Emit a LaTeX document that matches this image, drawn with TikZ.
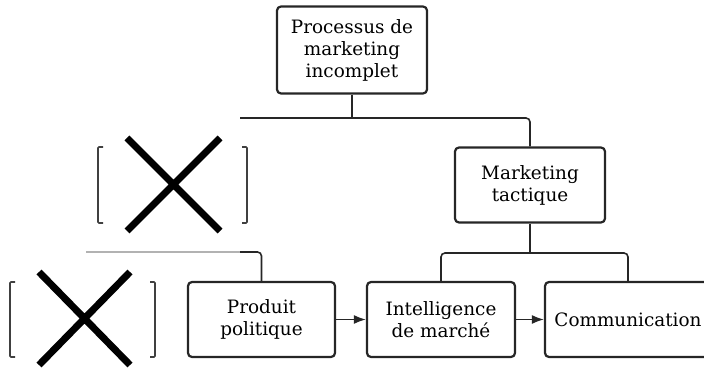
\documentclass[tikz,border=0pt]{standalone}
\usepackage{fontspec}
\setmainfont{DejaVu Serif}
\usetikzlibrary{arrows.meta}
\tikzset{
  box/.style={draw=black!85, line width=2.2pt, rounded corners=4pt, align=center,
    inner sep=0pt, font=\fontsize{18.4}{22}\selectfont, text=black},
  link/.style={line width=1.6pt, draw=black!85},
  tip/.style={-{Latex[length=12pt,width=9pt]}},
  cross/.style={line width=7pt},
  brak/.style={line width=1.6pt, draw=black!75, rounded corners=1pt}
}
\begin{document}
\begin{tikzpicture}[x=1pt,y=-1pt]
\useasboundingbox (0,0) rectangle (704,371);
% boxes
\node[box, minimum width=150, minimum height=87] (top) at (352,50) {Processus de\\marketing\\incomplet};
\node[box, minimum width=150, minimum height=75] (mt) at (530,185) {Marketing\\tactique};
\node[box, minimum width=147, minimum height=75] (prod) at (261.5,319.5) {Produit\\politique};
\node[box, minimum width=148, minimum height=75] (intel) at (441,319.5) {Intelligence\\de march\'e};
\node[box, minimum width=166, minimum height=75] (comm) at (628,319.5) {Communication};
% junctions
\coordinate (j1) at (352,118);
\coordinate (j2) at (530,253);
\coordinate (end1) at (240,118);
\coordinate (end2) at (86,252);
\coordinate (fade) at (240,252);
% links
\draw[link] (top.south) -- (j1);
\draw[link, rounded corners=4pt] (end1) -| (mt.north);
\draw[link] (mt.south) -- (j2);
\draw[link, rounded corners=4pt] (intel.north) |- (j2) -| (comm.north);
\draw[link, draw=black!30] (end2) -- (fade);
\draw[link, rounded corners=4pt] (fade) -| (prod.north);
\draw[link, tip] (prod) -- (intel);
\draw[link, tip] (intel) -- (comm);
% crossed out
\draw[brak] (103,147) -- (98,147) -- (98,223) -- (103,223);
\draw[brak] (242,147) -- (247,147) -- (247,223) -- (242,223);
\draw[cross] (127,138) -- (220,231) (220,138) -- (127,231);
\draw[brak] (15,282) -- (10,282) -- (10,357) -- (15,357);
\draw[brak] (150,282) -- (155,282) -- (155,357) -- (150,357);
\draw[cross] (39,272) -- (130,365) (130,272) -- (39,365);
\end{tikzpicture}
\end{document}
